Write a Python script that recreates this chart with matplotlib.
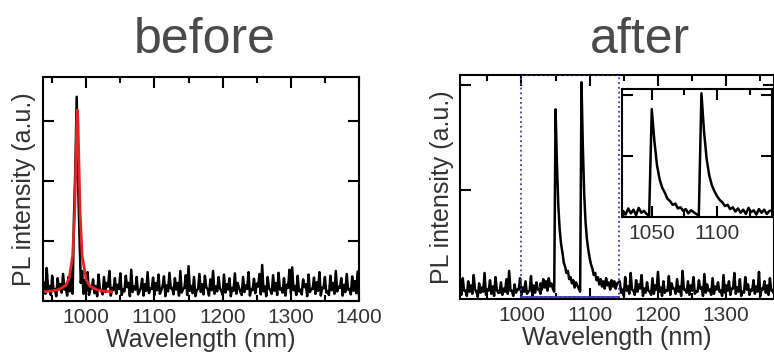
import numpy as np
import matplotlib.pyplot as plt
from matplotlib.patches import Rectangle
from matplotlib.ticker import MultipleLocator, NullFormatter

plt.rcParams['font.family'] = ['Liberation Sans', 'DejaVu Sans']

# ---------- "before" spectrum: 4 nm bins from 938 nm ----------
# upper values on the bin, lower values half a bin later (noise band)
before_start, before_step = 938, 4
before_hi = [
    0.30, 0.55, 0.25, 0.42, 0.20, 0.38, 0.28, 0.45, 0.22, 0.40,
    0.55, 1.40, 3.40, 1.10, 0.50, 0.35, 0.48, 0.20, 0.36, 0.25,
    0.44, 0.18, 0.40, 0.30, 0.50, 0.22, 0.38, 0.27, 0.46, 0.19,
    0.42, 0.30, 0.52, 0.24, 0.40, 0.16, 0.37, 0.28, 0.48, 0.21,
    0.39, 0.30, 0.44, 0.18, 0.41, 0.26, 0.47, 0.22, 0.38, 0.30,
    0.50, 0.20, 0.43, 0.58, 0.25, 0.40, 0.18, 0.45, 0.28, 0.42,
    0.20, 0.36, 0.50, 0.24, 0.40, 0.17, 0.44, 0.28, 0.38, 0.22,
    0.46, 0.30, 0.15, 0.40, 0.26, 0.48, 0.20, 0.37, 0.29, 0.45,
    0.60, 0.24, 0.40, 0.18, 0.43, 0.30, 0.47, 0.21, 0.38, 0.27,
    0.52, 0.56, 0.25, 0.42, 0.19, 0.36, 0.28, 0.44, 0.20, 0.39,
    0.31, 0.48, 0.22, 0.40, 0.16, 0.42, 0.30, 0.50, 0.24, 0.38,
    0.27, 0.45, 0.20, 0.41, 0.33, 0.49,
]
before_lo = [
    0.12, 0.20, 0.10, 0.18, 0.08, 0.22, 0.14, 0.19, 0.09, 0.16,
    0.12, 2.20, 2.00, 0.30, 0.12, 0.17, 0.10, 0.21, 0.13, 0.08,
    0.19, 0.11, 0.15, 0.24, 0.09, 0.18, 0.12, 0.20, 0.10, 0.16,
    0.23, 0.08, 0.15, 0.19, 0.11, 0.22, 0.09, 0.17, 0.13, 0.20,
    0.10, 0.18, 0.12, 0.25, 0.08, 0.16, 0.21, 0.11, 0.19, 0.09,
    0.14, 0.22, 0.10, 0.17, 0.13, 0.08, 0.20, 0.15, 0.11, 0.23,
    0.09, 0.18, 0.12, 0.16, 0.21, 0.10, 0.14, 0.19, 0.08, 0.17,
    0.12, 0.22, 0.10, 0.15, 0.20, 0.09, 0.18, 0.13, 0.24, 0.11,
    0.16, 0.08, 0.21, 0.12, 0.17, 0.10, 0.19, 0.14, 0.09, 0.22,
    0.13, 0.18, 0.10, 0.16, 0.11, 0.23, 0.08, 0.15, 0.20, 0.12,
    0.17, 0.09, 0.21, 0.14, 0.10, 0.18, 0.12, 0.16, 0.22, 0.09,
    0.15, 0.19, 0.11, 0.17, 0.13, 0.10,
]

# Lorentzian fit (red)
fit_wl = [937, 950, 960, 970, 975, 980, 983, 985, 986, 987,
          988, 989, 991, 994, 1000, 1005, 1015, 1025, 1037]
fit_pl = [0.155, 0.167, 0.19, 0.26, 0.38, 0.75, 1.46, 2.43, 2.95, 3.18,
          2.95, 2.43, 1.46, 0.75, 0.35, 0.25, 0.19, 0.166, 0.155]

# ---------- "after" spectrum, three segments ----------
after_left_start, after_left_step = 910, 4
after_left_hi = [
    0.05, 0.15, 0.03, 0.12, 0.08, 0.18, 0.02, 0.10, 0.06, 0.20,
    0.04, 0.13, 0.07, 0.16, 0.01, 0.11, 0.05, 0.14, 0.22, 0.03,
    0.09, 0.04, 0.15, 0.06, 0.12, 0.02, 0.17, 0.08, 0.11, 0.04,
]
after_left_lo = [
    -0.01, 0.03, -0.02, 0.02, 0.00, 0.04, -0.03, 0.01, 0.02, -0.01,
    0.03, 0.00, -0.02, 0.04, 0.01, -0.01, 0.02, 0.00, 0.03, -0.02,
    0.01, 0.04, -0.01, 0.02, 0.00, 0.03, -0.02, 0.01, 0.04, 0.00,
]
# peak region, 2 nm sampling
after_mid_start, after_mid_step = 1028, 2
after_mid = [
    0.10, 0.04, 0.14, 0.06, 0.12, 0.03, 0.15, 0.07, 0.10, 0.05,
    0.02, 1.77, 1.25, 0.85, 0.62, 0.48, 0.40, 0.30, 0.26, 0.20,
    0.22, 0.14, 0.16, 0.10, 0.13, 0.06, 0.11, 0.08, 0.05, 0.02,
    2.03, 1.40, 0.95, 0.68, 0.52, 0.42, 0.34, 0.28, 0.24, 0.18,
    0.20, 0.13, 0.16, 0.09, 0.14, 0.07, 0.12, 0.05, 0.15, 0.08,
    0.11, 0.04, 0.13, 0.07, 0.12, 0.05, 0.10,
]
after_right_start, after_right_step = 1144, 4
after_right_hi = [
    0.12, 0.04, 0.16, 0.07, 0.20, 0.03, 0.13, 0.09, 0.18, 0.05,
    0.11, 0.02, 0.15, 0.08, 0.21, 0.06, 0.12, 0.03, 0.17, 0.10,
    0.05, 0.14, 0.07, 0.22, 0.04, 0.12, 0.08, 0.16, 0.02, 0.13,
    0.06, 0.19, 0.09, 0.04, 0.15, 0.07, 0.11, 0.03, 0.18, 0.08,
    0.12, 0.05, 0.20, 0.06, 0.14, 0.02, 0.16, 0.09, 0.04, 0.13,
    0.07, 0.21, 0.05, 0.12, 0.08, 0.15, 0.03,
]
after_right_lo = [
    0.01, -0.02, 0.03, 0.00, 0.04, -0.01, 0.02, 0.05, -0.02, 0.01,
    0.03, -0.01, 0.00, 0.04, 0.02, -0.02, 0.01, 0.03, -0.01, 0.05,
    0.00, 0.02, -0.02, 0.04, 0.01, -0.01, 0.03, 0.00, 0.02, 0.05,
    -0.02, 0.01, 0.03, -0.01, 0.00, 0.04, 0.02, -0.02, 0.01, 0.03,
    -0.01, 0.05, 0.00, 0.02, -0.02, 0.01, 0.04, -0.01, 0.03, 0.00,
    0.02, -0.02, 0.04, 0.01, -0.01, 0.03, 0.00,
]

box_wl = (1000, 1143)   # dotted zoom region


def zigzag(start, step, hi, lo):
    x = np.arange(start, start + step * len(hi), step)
    xs = np.column_stack([x, x + step / 2]).ravel()
    ys = np.column_stack([hi, lo]).ravel()
    return xs, ys


before_wl, before_pl = zigzag(before_start, before_step, before_hi, before_lo)
lx, ly = zigzag(after_left_start, after_left_step, after_left_hi, after_left_lo)
rx, ry = zigzag(after_right_start, after_right_step, after_right_hi, after_right_lo)
mx = np.arange(after_mid_start, after_mid_start + after_mid_step * len(after_mid),
               after_mid_step)
after_wl = np.concatenate([lx, mx, rx])
after_pl = np.concatenate([ly, after_mid, ry])

TXT = '#333333'
W, H = 774, 353


def style(ax, major, minor, yticks):
    for s in ax.spines.values():
        s.set_linewidth(1.5)
    ax.xaxis.set_major_locator(MultipleLocator(major))
    ax.xaxis.set_minor_locator(MultipleLocator(minor))
    ax.set_yticks(yticks)
    ax.yaxis.set_major_formatter(NullFormatter())
    ax.tick_params(which='both', direction='in', top=True, right=True,
                   width=1.5, labelsize=15, labelcolor=TXT, pad=5)
    ax.tick_params(which='major', length=8)
    ax.tick_params(which='minor', length=4)


fig = plt.figure(figsize=(W / 100, H / 100), dpi=100)

# ---------- before ----------
ax1 = fig.add_axes([43.3 / W, 52 / H, 315.7 / W, 224 / H])
ax1.plot(before_wl, before_pl, color='black', lw=1.8)
ax1.plot(fit_wl, fit_pl, color='#e02525', lw=2.0)
ax1.set_xlim(937, 1400)
ax1.set_ylim(0, 3.73)
style(ax1, 100, 50, [0, 1, 2, 3])
ax1.set_xlabel('Wavelength (nm)', fontsize=18, color=TXT, labelpad=1)
ax1.set_ylabel('PL intensity (a.u.)', fontsize=18, color=TXT, labelpad=0)

# ---------- after ----------
ax2 = fig.add_axes([460 / W, 54 / H, 314 / W, 224 / H])
ax2.plot(after_wl, after_pl, color='black', lw=1.8)
ax2.add_patch(Rectangle((box_wl[0], -0.03), box_wl[1] - box_wl[0], 2.13,
                        fill=False, ls=':', lw=1.3, ec='#3a3ab0', zorder=3))
ax2.plot(box_wl, [-0.03, -0.03], color='#3a3ab0', lw=1.3, zorder=3)
ax2.set_xlim(910, 1370)
ax2.set_ylim(-0.05, 2.1)
style(ax2, 100, 50, [1, 2])
ax2.set_xlabel('Wavelength (nm)', fontsize=18, color=TXT, labelpad=1)
ax2.set_ylabel('PL intensity (a.u.)', fontsize=18, color=TXT, labelpad=-1)

# inset zoom
ax3 = fig.add_axes([621.7 / W, 136 / H, 150.3 / W, 128 / H])
ax3.plot(after_wl, after_pl, color='black', lw=1.8)
ax3.set_xlim(1027, 1142)
ax3.set_ylim(0, 2.1)
style(ax3, 50, 25, [1, 2])
ax3.set_xticks([1050, 1100])

fig.text(205 / W, 1 - 53 / H, 'before', ha='center', va='baseline',
         fontsize=36, color='#4a4a4a')
fig.text(640 / W, 1 - 53 / H, 'after', ha='center', va='baseline',
         fontsize=36, color='#4a4a4a')

fig.savefig('out.png', dpi=100)
